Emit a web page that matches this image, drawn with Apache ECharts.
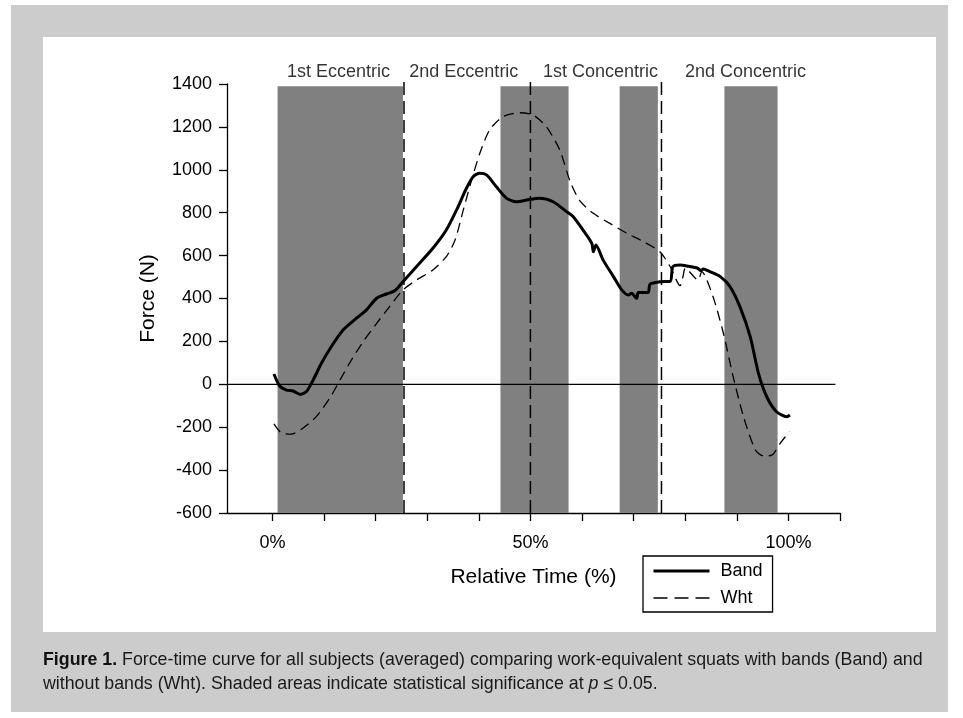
<!DOCTYPE html>
<html>
<head>
<meta charset="utf-8">
<script src="https://cdn.jsdelivr.net/npm/echarts@6/dist/echarts.min.js"></script>
<style>
  html, body { margin: 0; padding: 0; background: #ffffff; }
  #chart { width: 963px; height: 718px; }
</style>
</head>
<body>
<div id="chart"></div>
<script>
// Averaged force-time curve with bands (Band): [relative time %, force N]
const bandCurve = [
  [0.3, 48], [1.4, -8], [2.7, -27], [4.0, -31], [5.4, -47], [6.6, -34],
  [7.9, 20], [9.5, 98], [11.4, 175], [13.7, 253], [16.3, 308], [18.2, 346],
  [20.2, 401], [22.1, 421], [23.7, 436], [25.3, 478], [27.9, 548], [31.1, 634],
  [33.7, 719], [35.7, 813], [37.6, 914], [38.9, 968], [40.2, 984], [41.5, 976],
  [43.4, 921], [45.4, 867], [47.3, 851], [49.3, 859], [51.8, 867], [54.4, 851],
  [57.0, 805], [58.3, 781], [60.2, 719], [61.9, 657], [62.2, 618], [62.7, 649],
  [64.1, 579], [66.1, 502], [67.7, 440], [69.0, 416], [69.6, 424], [70.6, 401],
  [70.9, 428], [72.8, 428], [73.2, 467], [75.1, 478], [77.1, 480], [77.6, 548],
  [79.0, 556], [80.6, 550], [82.4, 541], [83.0, 530], [83.5, 538], [84.8, 525],
  [86.8, 502], [88.7, 455], [90.6, 362], [92.6, 222], [94.2, 51], [95.8, -58],
  [97.7, -128], [99.7, -151], [100.3, -143]
];

// Averaged force-time curve without bands (Wht): [relative time %, force N]
const whtCurve = [
  [0.3, -185], [1.7, -226], [3.7, -232], [5.9, -205], [8.5, -151], [11.1, -65],
  [13.1, 20], [15.3, 113], [17.6, 199], [20.2, 284], [22.7, 362], [25.3, 440],
  [27.9, 486], [31.1, 533], [33.7, 595], [35.4, 673], [37.0, 813], [38.6, 952],
  [40.2, 1077], [42.1, 1186], [44.7, 1248], [48.0, 1266], [50.5, 1256], [53.1, 1201],
  [55.7, 1092], [57.7, 945], [59.6, 855], [62.2, 797], [65.4, 750], [68.7, 704],
  [71.9, 665], [75.1, 618], [77.1, 548], [79.0, 460], [79.6, 505], [80.0, 541],
  [82.5, 486], [83.2, 525], [85.4, 408], [87.4, 238], [89.3, 35], [91.3, -151],
  [93.6, -306], [95.2, -334], [96.8, -330], [98.4, -275], [100.2, -221]
];

// Time spans with a significant difference (p <= 0.05), in relative time %
const significantSpans = [[1.0, 25.3], [44.2, 57.4], [67.3, 74.7], [87.6, 97.9]];
const spanTop = 1390;

// Phase boundaries and phase names
const phaseBoundaries = [25.5, 50, 75.4];
const phaseNames = ['1st Eccentric', '2nd Eccentric', '1st Concentric', '2nd Concentric'];
const phaseNameX = [12.8, 37.1, 63.6, 91.7];
const phaseNameY = 1457;
const phaseLineTop = 1420;

// Axes
const xMin = -8.8, xMax = 110;
const xTickValues = [0, 10, 20, 30, 40, 50, 60, 70, 80, 90, 100, 110];
const xLabelValues = [0, 50, 100];
const yMin = -600, yMax = 1400, yStep = 200;
const zeroLineEnd = 109.1;

const FONT = 'Liberation Sans, Arial, Helvetica, sans-serif';

const chart = echarts.init(document.getElementById('chart'), null, { renderer: 'canvas' });

const phaseLineSeries = phaseBoundaries.map((x) => ({
  type: 'line',
  data: [[x, yMin], [x, phaseLineTop]],
  symbol: 'none',
  clip: false,
  silent: true,
  z: 3,
  lineStyle: { color: '#000', width: 1.5, type: [13, 6] }
}));

const option = {
  animation: false,
  textStyle: { fontFamily: FONT },
  graphic: [
    { type: 'rect', z: -20, silent: true, shape: { x: 11, y: 5, width: 937, height: 707 }, style: { fill: '#cccccc' } },
    { type: 'rect', z: -19, silent: true, shape: { x: 43, y: 37, width: 893, height: 595 }, style: { fill: '#ffffff' } },
    {
      type: 'text', left: 43, top: 648, silent: true,
      style: {
        text: '{b|Figure 1.} Force-time curve for all subjects (averaged) comparing work-equivalent squats with bands (Band) and\nwithout bands (Wht). Shaded areas indicate statistical significance at {i|p} \u2264 0.05.',
        fontFamily: FONT, fontSize: 17.8, lineHeight: 24, fill: '#1a1a1a',
        rich: {
          b: { fontWeight: 'bold', fontFamily: FONT, fontSize: 17.8, lineHeight: 24, fill: '#111' },
          i: { fontStyle: 'italic', fontFamily: FONT, fontSize: 17.8, lineHeight: 24, fill: '#1a1a1a' }
        }
      }
    }
  ],
  grid: { left: 227, right: 123, top: 84, bottom: 205, containLabel: false },
  legend: {
    data: [
      { name: 'Band', lineStyle: { width: 3, color: '#000', type: 'solid' } },
      { name: 'Wht', lineStyle: { width: 1.3, color: '#000', type: [14, 7] } }
    ],
    orient: 'vertical',
    left: 643, top: 556,
    itemWidth: 56, itemHeight: 14, itemGap: 9,
    padding: [6, 10, 5, 9],
    borderColor: '#000', borderWidth: 1.3,
    backgroundColor: '#fff',
    itemStyle: { opacity: 0, borderWidth: 0 },
    textStyle: { fontSize: 18, color: '#000', fontFamily: FONT, padding: [0, 0, 0, 6] },
    selectedMode: false
  },
  xAxis: {
    type: 'value', min: xMin, max: xMax,
    name: 'Relative Time (%)', nameLocation: 'middle', nameGap: 54,
    nameTextStyle: { fontSize: 21, color: '#000', fontFamily: FONT },
    axisLine: { onZero: false, lineStyle: { color: '#000', width: 1.3 } },
    axisTick: { show: true, inside: false, length: 8, customValues: xTickValues, lineStyle: { color: '#000', width: 1.3 } },
    axisLabel: { customValues: xLabelValues, formatter: '{value}%', fontSize: 18, color: '#000', margin: 21, fontFamily: FONT },
    splitLine: { show: false }
  },
  yAxis: {
    type: 'value', min: yMin, max: yMax, interval: yStep,
    name: 'Force (N)', nameLocation: 'middle', nameGap: 68, nameRotate: 90,
    nameTextStyle: { fontSize: 21, color: '#000', fontFamily: FONT },
    axisLine: { show: true, onZero: false, lineStyle: { color: '#000', width: 1.3 } },
    axisTick: { show: true, inside: false, length: 8, lineStyle: { color: '#000', width: 1.3 } },
    axisLabel: { fontSize: 18, color: '#000', margin: 15, fontFamily: FONT, formatter: (v) => String(v) },
    splitLine: { show: false }
  },
  series: [
    {
      // shaded significance spans
      type: 'line', data: [], silent: true, z: 1,
      markArea: {
        silent: true,
        itemStyle: { color: '#808080' },
        data: significantSpans.map(([a, b]) => [{ xAxis: a, yAxis: yMin }, { xAxis: b, yAxis: spanTop }])
      }
    },
    {
      // zero reference line
      type: 'line', data: [[xMin, 0], [zeroLineEnd, 0]], symbol: 'none', silent: true, z: 2,
      lineStyle: { color: '#000', width: 1.2 }
    },
    ...phaseLineSeries,
    {
      // phase names above the plot
      type: 'scatter', silent: true, clip: false, symbolSize: 0, z: 4,
      data: phaseNames.map((n, i) => ({ name: n, value: [phaseNameX[i], phaseNameY] })),
      label: { show: true, position: 'inside', formatter: '{b}', fontSize: 18, color: '#000', fontFamily: FONT }
    },
    {
      name: 'Wht', type: 'line', data: whtCurve, symbol: 'none', smooth: 0.25, z: 5,
      lineStyle: { color: '#000', width: 1.3, type: [10, 6] },
      itemStyle: { color: '#000' }
    },
    {
      name: 'Band', type: 'line', data: bandCurve, symbol: 'none', smooth: 0.25, z: 6,
      lineStyle: { color: '#000', width: 3 },
      itemStyle: { color: '#000' }
    }
  ]
};

chart.setOption(option);
</script>
</body>
</html>
